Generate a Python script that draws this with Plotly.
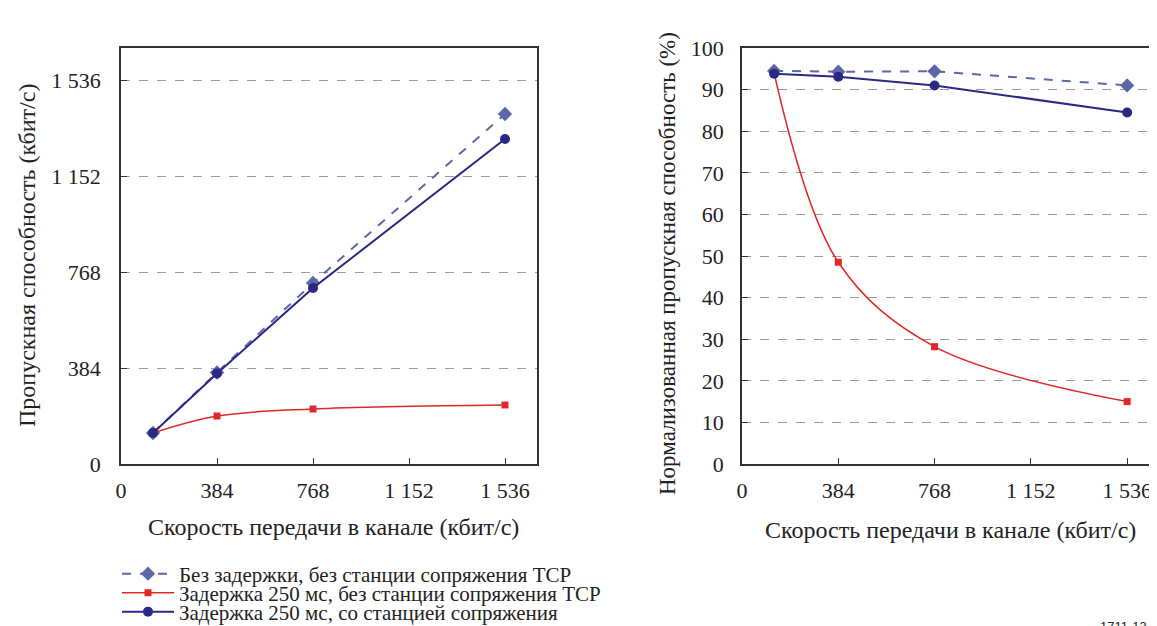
import plotly.graph_objects as go

W, H = 1157, 626
OFF = 8  # page body margin

rates = [128, 384, 768, 1536]
left_nodelay = [124, 366, 724, 1400]
left_delay = [124, 192, 220, 236]
left_pep = [124, 362, 704, 1300]

right_nodelay = [94.5, 94.3, 94.4, 91.0]
right_delay = [94.0, 48.5, 28.2, 15.0]
right_pep = [93.8, 93.1, 91.0, 84.5]

names = ["Без задержки, без станции сопряжения TCP",
         "Задержка 250 мс, без станции сопряжения TCP",
         "Задержка 250 мс, со станцией сопряжения"]

x_title = "Скорость передачи в канале (кбит/с)"
left_y_title = "Пропускная способность (кбит/с)"
right_y_title = "Нормализованная пропускная способность (%)"

xticks = [0, 384, 768, 1152, 1536]
xticktext = ["0", "384", "768", "1 152", "1 536"]
lyticks = [0, 384, 768, 1152, 1536]
lyticktext = ["0", "384", "768", "1 152", "1 536"]
ryticks = list(range(0, 101, 10))

C_DIAM = "#5d66a8"
C_RED = "#e02828"
C_NAVY = "#2a2883"
FONT = "Liberation Serif"


def sx(p):
    return (p - OFF) / W


def sy(p):
    return 1 - (p - OFF) / H


fig = go.Figure()

legend_ids = ["legend", "legend2", "legend3"]


def add_series(xa, ya, ys, show):
    fig.add_trace(go.Scatter(x=rates, y=ys[0], xaxis=xa, yaxis=ya, name=names[0], showlegend=show,
                             legend=legend_ids[0],
                             mode="lines+markers", line=dict(color=C_DIAM, width=2, dash="dash"),
                             marker=dict(symbol="diamond", size=11, color=C_DIAM)))
    fig.add_trace(go.Scatter(x=rates, y=ys[1], xaxis=xa, yaxis=ya, name=names[1], showlegend=show,
                             legend=legend_ids[1],
                             mode="lines+markers", line=dict(color=C_RED, width=1.5, shape="spline", smoothing=1.0),
                             marker=dict(symbol="square", size=7, color=C_RED)))
    fig.add_trace(go.Scatter(x=rates, y=ys[2], xaxis=xa, yaxis=ya, name=names[2], showlegend=show,
                             legend=legend_ids[2],
                             mode="lines+markers", line=dict(color=C_NAVY, width=2),
                             marker=dict(symbol="circle", size=10, color=C_NAVY)))


add_series("x", "y", [left_nodelay, left_delay, left_pep], True)
add_series("x2", "y2", [right_nodelay, right_delay, right_pep], False)

axis_common = dict(showline=True, linecolor="#333333", linewidth=1.5, ticks="inside", ticklen=6,
                   tickcolor="#333333", tickfont=dict(family=FONT, size=22, color="#222222"),
                   zeroline=False, automargin=False)

legend_style = dict(xanchor="left", yanchor="middle", font=dict(family=FONT, size=21, color="#222222"),
                    bgcolor="rgba(0,0,0,0)", itemwidth=52, borderwidth=0)

TITLE_SIZE = 24

fig.update_layout(
    width=W, height=H, margin=dict(l=0, r=0, t=0, b=0, autoexpand=False),
    plot_bgcolor="white", paper_bgcolor="white",
    font=dict(family=FONT, size=20, color="#222222"),
    xaxis=dict(domain=[sx(121), sx(537)], range=[0, 1664], tickvals=xticks, ticktext=xticktext,
               mirror=True, showgrid=False, anchor="y", ticklabelstandoff=6, **axis_common),
    yaxis=dict(domain=[sy(464), sy(48)], range=[0, 1664], tickvals=lyticks, ticktext=lyticktext,
               mirror=True, showgrid=True, gridcolor="#999999", griddash="dash", gridwidth=1,
               ticklabelstandoff=14, anchor="x", **axis_common),
    xaxis2=dict(domain=[sx(742), sx(1157)], range=[0, 1655], tickvals=xticks, ticktext=xticktext,
                mirror=True, showgrid=False, anchor="y2", ticklabelstandoff=6, **axis_common),
    yaxis2=dict(domain=[sy(464), sy(48)], range=[0, 100], tickvals=ryticks,
                mirror=False, showgrid=True, gridcolor="#999999", griddash="dash", gridwidth=1,
                ticklabelstandoff=12, anchor="x2", **axis_common),
    legend=dict(x=sx(117), y=sy(574), **legend_style),
    legend2=dict(x=sx(117), y=sy(593), **legend_style),
    legend3=dict(x=sx(117), y=sy(612), **legend_style),
    annotations=[
        dict(text=x_title, x=sx(333), y=sy(527), xref="paper", yref="paper",
             xanchor="center", yanchor="middle", showarrow=False, font=dict(family=FONT, size=TITLE_SIZE)),
        dict(text=x_title, x=sx(950), y=sy(530), xref="paper", yref="paper",
             xanchor="center", yanchor="middle", showarrow=False, font=dict(family=FONT, size=TITLE_SIZE)),
        dict(text=left_y_title, x=sx(27), y=sy(256), xref="paper", yref="paper",
             xanchor="center", yanchor="middle", showarrow=False, textangle=-90, font=dict(family=FONT, size=TITLE_SIZE)),
        dict(text=right_y_title, x=sx(667), y=sy(264), xref="paper", yref="paper",
             xanchor="center", yanchor="middle", showarrow=False, textangle=-90, font=dict(family=FONT, size=23)),
        dict(text="1711-13", x=sx(1098), y=sy(617), xref="paper", yref="paper", xanchor="left", yanchor="top",
             showarrow=False, font=dict(family="Liberation Sans", size=13)),
    ],
)

fig.write_html("out.html")
